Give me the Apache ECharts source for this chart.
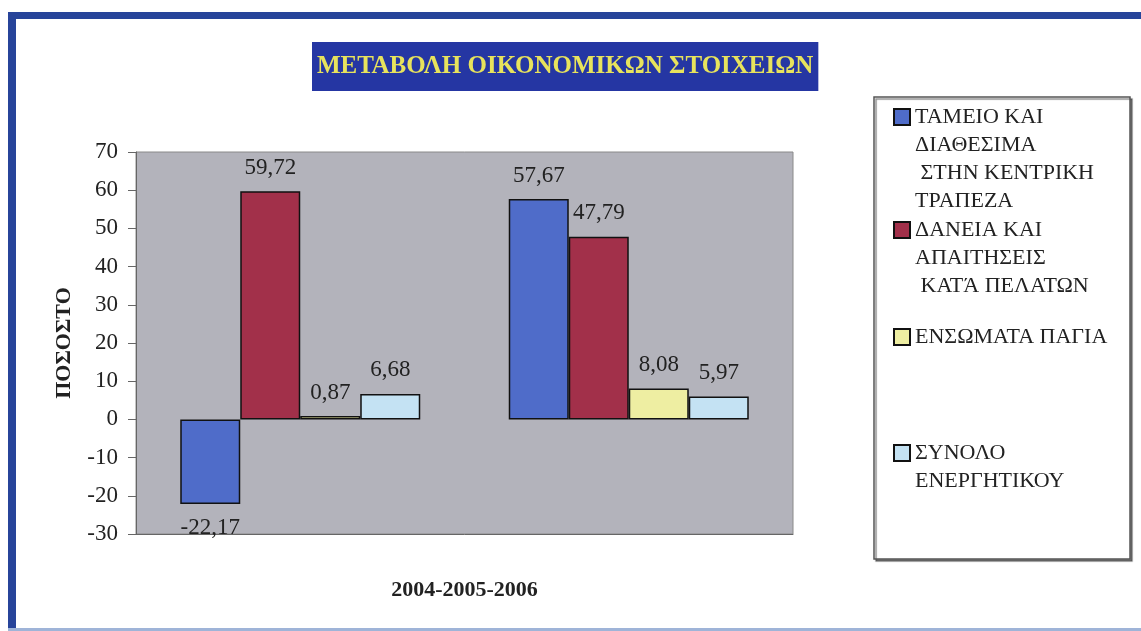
<!DOCTYPE html>
<html>
<head>
	<meta charset="utf-8" />
	<title>ΜΕΤΑΒΟΛΗ ΟΙΚΟΝΟΜΙΚΩΝ ΣΤΟΙΧΕΙΩΝ</title>
	<script src="https://cdn.jsdelivr.net/npm/echarts@6/dist/echarts.min.js"></script>
	<style>
		html, body { margin: 0; padding: 0; background: #fff; }
	</style>
</head>
<body>
	<div id="main" style="width: 1141px;height: 631px;"></div>

	<script type="text/javascript">
		// δεδομένα (ποσοστά μεταβολής)
		var periods = ['2004-2005', '2005-2006'];
		var tameio = [-22.17, 57.67];
		var daneia = [59.72, 47.79];
		var pagia = [0.87, 8.08];
		var synolo = [6.68, 5.97];

		var seriesNames = [
			'ΤΑΜΕΙΟ ΚΑΙ\nΔΙΑΘΕΣΙΜΑ\n ΣΤΗΝ ΚΕΝΤΡΙΚΗ\nΤΡΑΠΕΖΑ',
			'ΔΑΝΕΙΑ ΚΑΙ\nΑΠΑΙΤΗΣΕΙΣ\n ΚΑΤΆ ΠΕΛΑΤΩΝ',
			'ΕΝΣΩΜΑΤΑ ΠΑΓΙΑ',
			'ΣΥΝΟΛΟ\nΕΝΕΡΓΗΤΙΚΟΥ'
		];
		var seriesValues = [tameio, daneia, pagia, synolo];
		var colors = ['#4f6cc9', '#a2304a', '#eeeea2', '#c4e2f3'];

		var font = 'Liberation Serif, Times New Roman, serif';
		var myChart = echarts.init(document.getElementById('main'));

		function toItems(arr) {
			return arr.map(function (v) {
				return v < 0 ? {value: v, label: {position: 'bottom'}} : v;
			});
		}

		var series = [];
		for (var i = 0; i < seriesNames.length; i++) {
			series.push({
				name: seriesNames[i],
				type: 'bar',
				barWidth: 60,
				barGap: '0%',
				itemStyle: {color: colors[i], borderColor: '#111', borderWidth: 1.5},
				label: {
					show: true,
					position: 'top',
					distance: 12,
					fontFamily: font,
					fontSize: 23,
					color: '#222',
					formatter: function (p) { return p.value.toFixed(2).replace('.', ','); }
				},
				data: toItems(seriesValues[i])
			});
		}

		// ένα legend για κάθε σειρά: κενές γραμμές πάνω από το κείμενο
		// ώστε το τετράγωνο να μένει δίπλα στην πρώτη γραμμή
		var lineH = 28;
		var firstLineY = [117, 230, 337, 453];
		var legends = seriesNames.map(function (name, k) {
			var n = name.split('\n').length;
			var pad = new Array(n).join('\n');
			return {
				left: 893,
				top: firstLineY[k] - (2 * n - 1) * lineH / 2,
				padding: 0,
				orient: 'vertical',
				icon: 'rect',
				itemWidth: 16,
				itemHeight: 16,
				selectedMode: false,
				data: [name],
				formatter: function (nm) { return pad + nm; },
				textStyle: {
					fontFamily: font,
					fontSize: 22,
					color: '#222',
					lineHeight: lineH
				}
			};
		});

		var option = {
			animation: false,
			title: {
				text: 'ΜΕΤΑΒΟΛΗ ΟΙΚΟΝΟΜΙΚΩΝ ΣΤΟΙΧΕΙΩΝ',
				left: 312,
				top: 42,
				padding: [12, 5],
				backgroundColor: '#2536a3',
				textStyle: {
					fontFamily: font,
					fontWeight: 'bold',
					fontSize: 25,
					color: '#e8e35c'
				}
			},
			legend: legends,
			grid: {
				left: 136,
				top: 152,
				width: 657,
				height: 382,
				show: true,
				backgroundColor: '#b3b3bb',
				borderColor: '#8a8a8a',
				borderWidth: 1
			},
			xAxis: {
				type: 'category',
				data: periods,
				name: '2004-2005-2006',
				nameLocation: 'middle',
				nameGap: 45,
				nameTextStyle: {fontFamily: font, fontSize: 22, fontWeight: 'bold', color: '#222'},
				axisLine: {onZero: false, lineStyle: {color: '#666'}},
				axisTick: {show: false},
				axisLabel: {show: false},
				splitLine: {show: false}
			},
			yAxis: {
				type: 'value',
				min: -30,
				max: 70,
				interval: 10,
				name: 'ΠΟΣΟΣΤΟ',
				nameLocation: 'middle',
				nameRotate: 90,
				nameGap: 61,
				nameTextStyle: {fontFamily: font, fontSize: 22, fontWeight: 'bold', color: '#222'},
				axisLine: {show: true, lineStyle: {color: '#666'}},
				axisTick: {show: true, length: 8, lineStyle: {color: '#666'}},
				axisLabel: {margin: 18, fontFamily: font, fontSize: 23, color: '#222'},
				splitLine: {show: false}
			},
			graphic: [
				// πλαίσιο υπομνήματος
				{
					type: 'rect', z: 0,
					shape: {x: 874, y: 97, width: 256, height: 462},
					style: {fill: '#fff', stroke: '#555', lineWidth: 1.5,
						shadowColor: 'rgba(0,0,0,0.45)', shadowOffsetX: 2, shadowOffsetY: 2, shadowBlur: 1}
				},
				// μπλε περίγραμμα σελίδας
				{type: 'rect', z: 0, shape: {x: 8, y: 12, width: 1133, height: 7}, style: {fill: '#27449a'}},
				{type: 'rect', z: 0, shape: {x: 8, y: 12, width: 8, height: 619}, style: {fill: '#27449a'}},
				{type: 'rect', z: 0, shape: {x: 8, y: 628, width: 1133, height: 3}, style: {fill: '#9fb4d8'}}
			],
			series: series
		};

		myChart.setOption(option);
	</script>
</body>
</html>
